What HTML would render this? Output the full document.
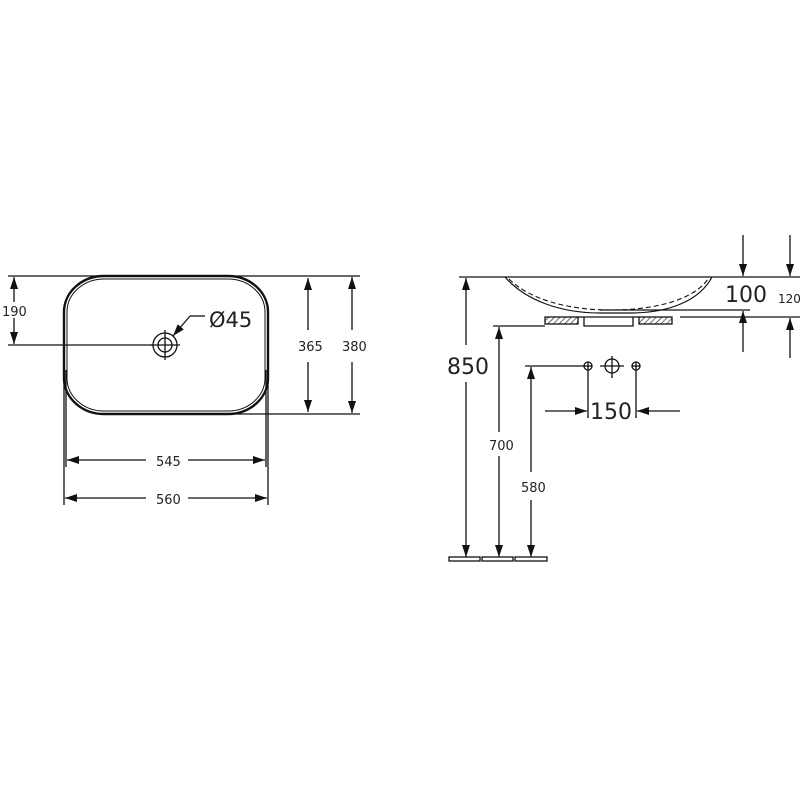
<!DOCTYPE html>
<html><head><meta charset="utf-8"><style>
html,body{margin:0;padding:0;background:#fff}
svg{display:block}
text{font-family:"DejaVu Sans","Liberation Sans",sans-serif;fill:#222}
</style></head><body>
<svg width="800" height="800" viewBox="0 0 800 800" xmlns="http://www.w3.org/2000/svg">
<defs>
<marker id="a" viewBox="0 0 12 8" refX="12" refY="4" markerWidth="12" markerHeight="8" markerUnits="userSpaceOnUse" orient="auto"><path d="M0,0 L12,4 L0,8 z" fill="#111"/></marker>
<pattern id="h" width="4" height="4" patternUnits="userSpaceOnUse" patternTransform="rotate(45)"><line x1="0" y1="0" x2="0" y2="4" stroke="#111" stroke-width="1.2"/></pattern>
</defs>
<g stroke="#111" stroke-width="1.3" fill="none">
<!-- LEFT VIEW -->
<line x1="8" y1="276" x2="360" y2="276"/>
<line x1="180" y1="414" x2="360" y2="414"/>
<line x1="8" y1="345" x2="153" y2="345"/>
<rect x="64" y="276" width="204" height="138" rx="40" ry="36" stroke-width="2.4"/>
<rect x="67" y="279" width="198" height="132" rx="37" ry="33" stroke-width="1"/>
<line x1="64" y1="330" x2="64" y2="505"/>
<line x1="268" y1="330" x2="268" y2="505"/>
<line x1="66" y1="370" x2="66" y2="467"/>
<line x1="266" y1="370" x2="266" y2="467"/>
<circle cx="165" cy="345" r="12"/>
<circle cx="165" cy="345" r="7"/>
<line x1="150" y1="345" x2="180" y2="345"/>
<line x1="165" y1="330" x2="165" y2="360"/>
<polyline points="190,316 205,316"/>
<line x1="190" y1="316" x2="173" y2="336" marker-end="url(#a)"/>
<!-- 190 -->
<line x1="14" y1="302" x2="14" y2="277" marker-end="url(#a)"/>
<line x1="14" y1="318" x2="14" y2="344" marker-end="url(#a)"/>
<!-- 365 -->
<line x1="308" y1="330" x2="308" y2="278" marker-end="url(#a)"/>
<line x1="308" y1="362" x2="308" y2="412" marker-end="url(#a)"/>
<!-- 380 -->
<line x1="352" y1="330" x2="352" y2="277" marker-end="url(#a)"/>
<line x1="352" y1="362" x2="352" y2="413" marker-end="url(#a)"/>
<!-- 545 -->
<line x1="146" y1="460" x2="67" y2="460" marker-end="url(#a)"/>
<line x1="188" y1="460" x2="265" y2="460" marker-end="url(#a)"/>
<!-- 560 -->
<line x1="146" y1="498" x2="65" y2="498" marker-end="url(#a)"/>
<line x1="188" y1="498" x2="267" y2="498" marker-end="url(#a)"/>

<!-- RIGHT VIEW -->
<line x1="459" y1="277" x2="800" y2="277"/>
<path d="M505,277 C525,300 560,313 600,313 L630,313 C670,313 700,300 712,277" stroke-width="1.2"/>
<path d="M509,279 C530,300 570,310 610,310 C660,310 695,298 708,279" stroke-dasharray="5,3" stroke-width="1.1"/>
<line x1="600" y1="310" x2="750" y2="310"/>
<line x1="680" y1="317" x2="800" y2="317"/>
<line x1="493" y1="326" x2="545" y2="326"/>
<rect x="545" y="317" width="33" height="7" fill="url(#h)"/>
<rect x="639" y="317" width="33" height="7" fill="url(#h)"/>
<path d="M584,317 L584,326 L633,326 L633,317"/>
<line x1="578" y1="317" x2="639" y2="317"/>
<!-- 100 / 120 -->
<line x1="743" y1="235" x2="743" y2="276" marker-end="url(#a)"/>
<line x1="743" y1="352" x2="743" y2="311" marker-end="url(#a)"/>
<line x1="790" y1="235" x2="790" y2="276" marker-end="url(#a)"/>
<line x1="790" y1="358" x2="790" y2="318" marker-end="url(#a)"/>
<!-- 850 -->
<line x1="466" y1="345" x2="466" y2="278" marker-end="url(#a)"/>
<line x1="466" y1="382" x2="466" y2="557" marker-end="url(#a)"/>
<!-- 700 -->
<line x1="499" y1="432" x2="499" y2="327" marker-end="url(#a)"/>
<line x1="499" y1="456" x2="499" y2="557" marker-end="url(#a)"/>
<!-- 580 -->
<line x1="525" y1="366" x2="584" y2="366"/>
<line x1="531" y1="472" x2="531" y2="367" marker-end="url(#a)"/>
<line x1="531" y1="500" x2="531" y2="557" marker-end="url(#a)"/>
<circle cx="588" cy="366" r="4"/><line x1="584" y1="366" x2="592" y2="366"/><line x1="588" y1="362" x2="588" y2="418"/>
<circle cx="612" cy="366" r="7"/><line x1="600" y1="366" x2="624" y2="366"/><line x1="612" y1="356" x2="612" y2="378"/>
<circle cx="636" cy="366" r="4"/><line x1="632" y1="366" x2="640" y2="366"/><line x1="636" y1="362" x2="636" y2="418"/>
<line x1="545" y1="411" x2="587" y2="411" marker-end="url(#a)"/>
<line x1="680" y1="411" x2="637" y2="411" marker-end="url(#a)"/>
<rect x="449" y="557" width="31" height="4"/>
<rect x="482" y="557" width="31" height="4"/>
<rect x="515" y="557" width="32" height="4"/>
</g>
<text x="2" y="316" font-size="13">190</text>
<text x="298" y="351" font-size="13">365</text>
<text x="342" y="351" font-size="13">380</text>
<text x="156" y="466" font-size="13">545</text>
<text x="156" y="504" font-size="13">560</text>
<text x="209" y="327" font-size="21">Ø45</text>
<text x="447" y="374" font-size="22">850</text>
<text x="489" y="450" font-size="13">700</text>
<text x="521" y="492" font-size="13">580</text>
<text x="590" y="419" font-size="22">150</text>
<text x="725" y="302" font-size="22">100</text>
<text x="778" y="303" font-size="12">120</text>
</svg>
</body></html>
